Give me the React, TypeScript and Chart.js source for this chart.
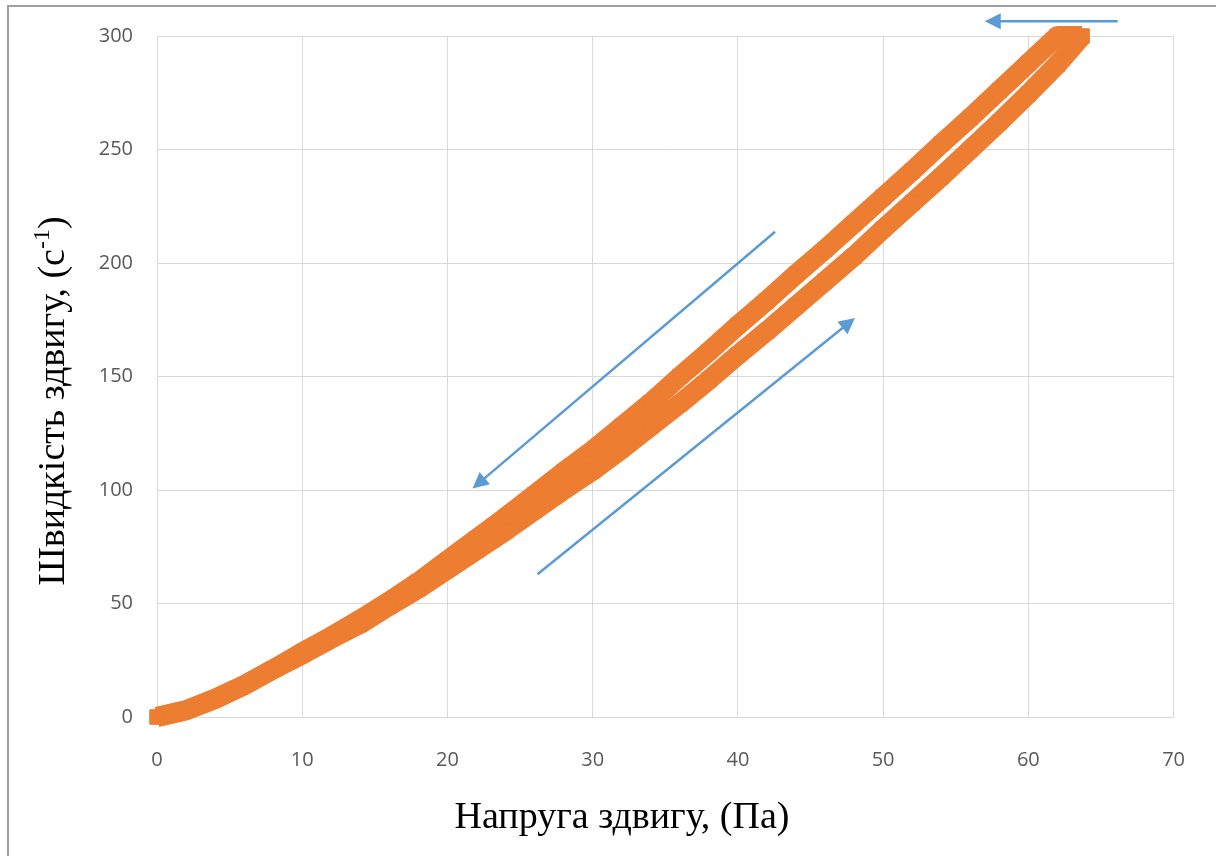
import React, { useEffect, useRef } from "react";
import { Chart, registerables } from "chart.js";

Chart.register(...registerables);

// Up-sweep branch (shear stress, Pa -> shear rate, 1/s)
const upStress = [0, 2, 4, 6, 8, 10, 12, 14, 16, 18, 20, 22, 24, 26, 28, 30, 32, 34, 36, 38, 40, 42, 44, 46, 48, 50, 52, 54, 56, 58, 60, 62, 63.7];
const upRate = [0, 3, 8, 14, 21, 27.5, 34.5, 41, 49, 56.5, 65, 73.5, 82, 91, 100, 108.5, 118, 128, 138, 148.5, 159.5, 170, 181, 192, 203, 215, 226.5, 238, 250, 262, 274.5, 287.5, 300];

// Down-sweep branch
const downStress = [63.7, 62, 60, 58, 56, 54, 52, 50, 48, 46, 44, 42, 40, 38, 36, 34, 32, 30, 28, 26, 24, 22, 20, 18, 16, 14, 12, 10, 8, 6, 4, 2, 0];
const downRate = [300, 300, 288, 276, 264, 252.5, 240.5, 229, 217.5, 206, 195, 183.5, 172.5, 161, 150, 138.5, 128, 117.5, 108, 98, 88, 78.5, 69, 59.5, 51, 43, 35.5, 28.5, 21, 14, 8, 3, 0];

// Axis ticks
const xTickValues = [0, 10, 20, 30, 40, 50, 60, 70];
const yTickValues = [0, 50, 100, 150, 200, 250, 300];

// Direction arrows (data units): from -> to (tip)
const arrowFromX = [66.15, 42.56, 26.2];
const arrowFromY = [306.5, 213.8, 62.9];
const arrowToX = [57.0, 21.73, 48.06];
const arrowToY = [306.5, 100.7, 175.8];

const xTitle = "Напруга здвигу, (Па)";
const yTitleMain = "Швидкість здвигу, (с";
const yTitleSup = "-1";
const yTitleEnd = ")";

const ORANGE = "#ED7D31";
const BLUE = "#5B9BD5";

const arrowPlugin = {
  id: "arrows",
  afterDatasetsDraw(chart: any) {
    const { ctx } = chart;
    const xs = chart.scales.x;
    const ys = chart.scales.y;
    ctx.save();
    ctx.strokeStyle = BLUE;
    ctx.fillStyle = BLUE;
    ctx.lineWidth = 2.5;
    for (let i = 0; i < arrowFromX.length; i++) {
      const x1 = xs.getPixelForValue(arrowFromX[i]);
      const y1 = ys.getPixelForValue(arrowFromY[i]);
      const x2 = xs.getPixelForValue(arrowToX[i]);
      const y2 = ys.getPixelForValue(arrowToY[i]);
      const ang = Math.atan2(y2 - y1, x2 - x1);
      const headLen = 16;
      const headW = 8;
      const bx = x2 - headLen * Math.cos(ang);
      const by = y2 - headLen * Math.sin(ang);
      ctx.beginPath();
      ctx.moveTo(x1, y1);
      ctx.lineTo(bx + 2 * Math.cos(ang), by + 2 * Math.sin(ang));
      ctx.stroke();
      ctx.beginPath();
      ctx.moveTo(x2, y2);
      ctx.lineTo(bx - headW * Math.sin(ang), by + headW * Math.cos(ang));
      ctx.lineTo(bx + headW * Math.sin(ang), by - headW * Math.cos(ang));
      ctx.closePath();
      ctx.fill();
    }
    ctx.restore();
  },
};

const titlePlugin = {
  id: "titles",
  afterDraw(chart: any) {
    const { ctx } = chart;
    ctx.save();
    ctx.fillStyle = "#000000";
    ctx.font = '38px "Liberation Serif"';
    ctx.textBaseline = "alphabetic";
    ctx.textAlign = "center";
    ctx.fillText(xTitle, 622, 828);

    ctx.translate(64, 401);
    ctx.rotate(-Math.PI / 2);
    ctx.textAlign = "left";
    ctx.font = '38px "Liberation Serif"';
    const wMain = ctx.measureText(yTitleMain).width;
    const wEnd = ctx.measureText(yTitleEnd).width;
    ctx.font = '24px "Liberation Serif"';
    const wSup = ctx.measureText(yTitleSup).width;
    const total = wMain + wSup + wEnd;
    let x0 = -total / 2;
    ctx.font = '38px "Liberation Serif"';
    ctx.fillText(yTitleMain, x0, 0);
    x0 += wMain;
    ctx.font = '24px "Liberation Serif"';
    ctx.fillText(yTitleSup, x0, -15);
    x0 += wSup;
    ctx.font = '38px "Liberation Serif"';
    ctx.fillText(yTitleEnd, x0, 0);
    ctx.restore();
  },
};

function ChartView() {
  const ref = useRef<HTMLCanvasElement | null>(null);
  useEffect(() => {
    if (!ref.current) return;
    const mk = (xs: number[], ys: number[]) => xs.map((v, i) => ({ x: v, y: ys[i] }));
    const dsStyle = {
      showLine: true,
      borderColor: ORANGE,
      backgroundColor: ORANGE,
      borderWidth: 20,
      borderJoinStyle: "round" as const,
      borderCapStyle: "butt" as const,
      pointStyle: "rect" as const,
      pointRadius: 10,
      pointBorderWidth: 1,
      pointBorderColor: ORANGE,
      pointBackgroundColor: ORANGE,
      clip: false as any,
      tension: 0,
    };
    const chart = new Chart(ref.current, {
      type: "scatter",
      data: {
        datasets: [
          { label: "up", data: mk(upStress, upRate), ...dsStyle },
          { label: "down", data: mk(downStress, downRate), ...dsStyle },
        ],
      },
      options: {
        animation: false,
        responsive: false,
        maintainAspectRatio: false,
        devicePixelRatio: 1,
        layout: { padding: { left: 0, top: 35, right: 41, bottom: 0 } },
        plugins: { legend: { display: false }, tooltip: { enabled: false } },
        scales: {
          x: {
            type: "linear",
            min: 0,
            max: 70,
            afterBuildTicks: (s: any) => {
              s.ticks = xTickValues.map((v) => ({ value: v }));
            },
            afterFit: (s: any) => {
              s.height = 139;
            },
            grid: { color: "#D9D9D9", lineWidth: 1, drawTicks: false },
            border: { color: "#D9D9D9", width: 1 },
            ticks: {
              padding: 31,
              color: "#595959",
              font: { family: '"Open Sans"', size: 20 },
              maxRotation: 0,
            },
          },
          y: {
            type: "linear",
            min: 0,
            max: 300,
            afterBuildTicks: (s: any) => {
              s.ticks = yTickValues.map((v) => ({ value: v }));
            },
            afterFit: (s: any) => {
              s.width = 157;
            },
            grid: { color: "#D9D9D9", lineWidth: 1, drawTicks: false },
            border: { color: "#D9D9D9", width: 1 },
            ticks: {
              padding: 24,
              color: "#595959",
              font: { family: '"Open Sans"', size: 20 },
            },
          },
        },
      },
      plugins: [arrowPlugin, titlePlugin],
    });
    return () => chart.destroy();
  }, []);
  return <canvas ref={ref} width={1216} height={856} style={{ position: "absolute", left: 0, top: 0, width: 1216, height: 856 }} />;
}

export default function App() {
  return (
    <div style={{ position: "fixed", left: 0, top: 0, width: 1216, height: 856, background: "#ffffff", overflow: "hidden" }}>
      <div
        style={{
          position: "absolute",
          left: 7,
          top: 5,
          width: 1400,
          height: 1000,
          borderTop: "2px solid #A0A0A0",
          borderLeft: "2px solid #A0A0A0",
        }}
      />
      <ChartView />
    </div>
  );
}
